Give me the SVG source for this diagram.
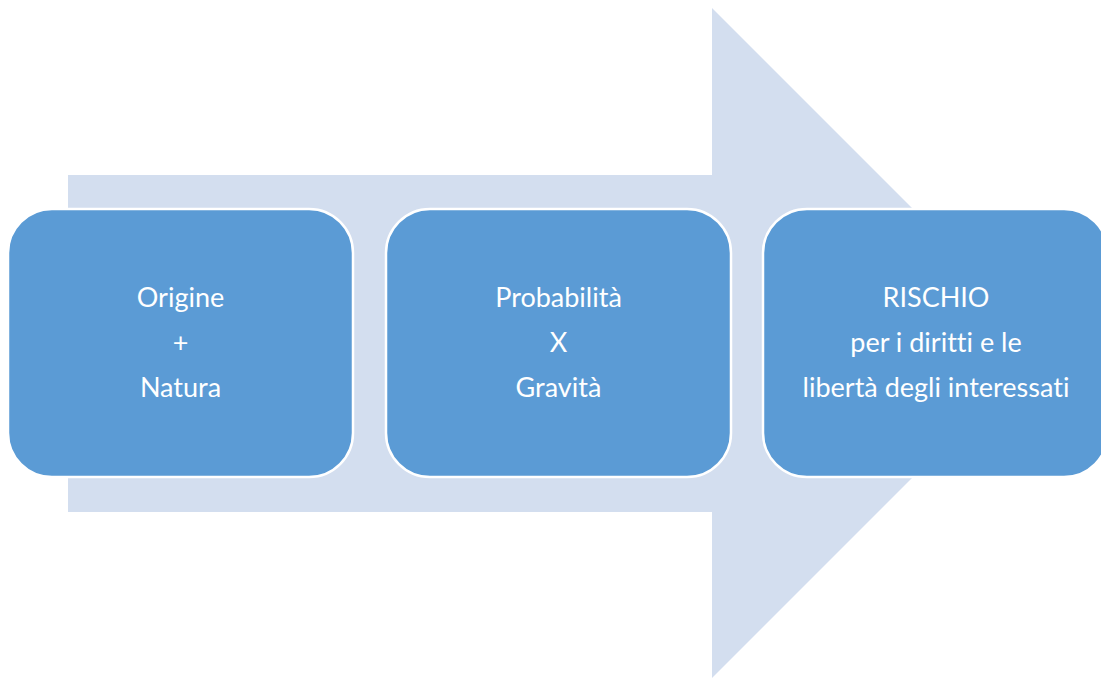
<svg xmlns="http://www.w3.org/2000/svg" width="1101" height="678" viewBox="0 0 1101 678">
<style>
.box{fill:#5B9BD5;stroke:#FFFFFF;stroke-width:2.5}
.t{font-family:Lato,"Open Sans","Liberation Sans",sans-serif;font-size:27px;fill:#FFFFFF;text-anchor:middle;font-variant-ligatures:none}
</style>
<rect width="1101" height="678" fill="#FFFFFF"/>
<g id="arrow">
<polygon points="68,175 712,175 712,8 1047,343 712,678 712,512 68,512" fill="#D3DEEF"/>
</g>
<g id="node1">
<rect class="box" x="8" y="209" width="345" height="268" rx="44" ry="44"/>
<text class="t" x="180.5" y="307">Origine</text>
<text class="t" x="180.5" y="352">+</text>
<text class="t" x="180.5" y="397">Natura</text>
</g>
<g id="node2">
<rect class="box" x="386" y="209" width="345" height="268" rx="44" ry="44"/>
<text class="t" x="558.5" y="307">Probabilità</text>
<text class="t" x="558.5" y="352">X</text>
<text class="t" x="558.5" y="397">Gravità</text>
</g>
<g id="node3">
<rect class="box" x="763" y="209" width="345" height="268" rx="44" ry="44"/>
<text class="t" x="936" y="307">RISCHIO</text>
<text class="t" x="936" y="352">per i diritti e le</text>
<text class="t" x="936" y="397">libertà degli interessati</text>
</g>
<g id="connectors"/>
</svg>
